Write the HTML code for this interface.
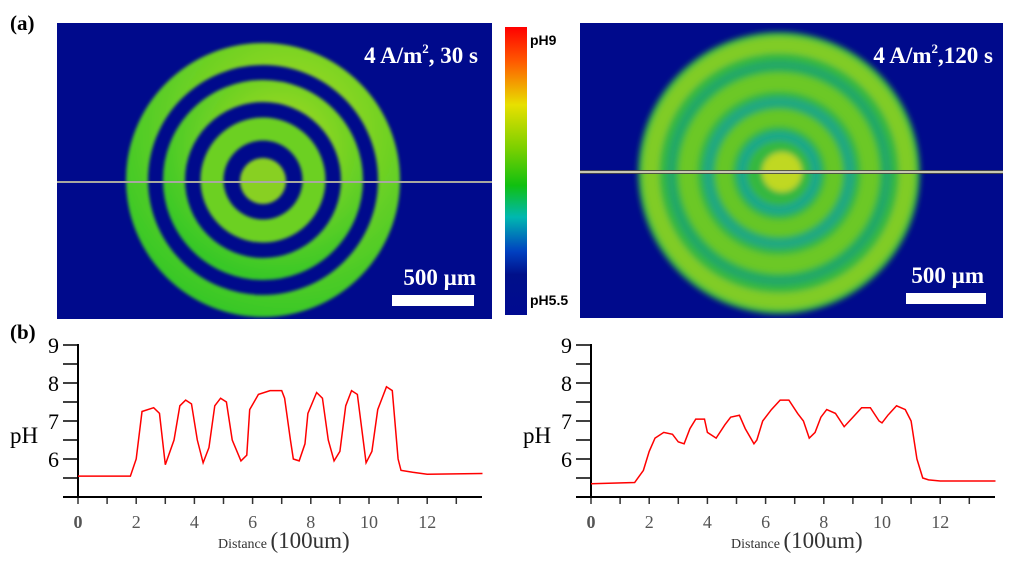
<!DOCTYPE html>
<html><head><meta charset="utf-8"><style>
html,body{margin:0;padding:0;background:#fff;width:1024px;height:566px;overflow:hidden}
svg{display:block;font-family:"Liberation Serif",serif}
</style></head><body>
<svg id="fig" width="1024" height="566" viewBox="0 0 1024 566">
<defs>
<filter id="bl" x="-20%" y="-20%" width="140%" height="140%"><feGaussianBlur stdDeviation="1.5"/></filter>
<filter id="bl2" x="-20%" y="-20%" width="140%" height="140%"><feGaussianBlur stdDeviation="2.8"/></filter>
<clipPath id="c1"><rect x="57" y="23" width="435" height="296"/></clipPath>
<clipPath id="c2"><rect x="580" y="23" width="423" height="295"/></clipPath>
<linearGradient id="cb" x1="0" y1="0" x2="0" y2="1">
<stop offset="0" stop-color="#ff0000"/><stop offset="0.12" stop-color="#ff5a00"/><stop offset="0.27" stop-color="#e8e000"/><stop offset="0.42" stop-color="#7cd000"/><stop offset="0.55" stop-color="#10c010"/><stop offset="0.66" stop-color="#00b8b0"/><stop offset="0.78" stop-color="#0040c0"/><stop offset="0.86" stop-color="#00108a"/><stop offset="1" stop-color="#000a90"/>
</linearGradient>
<radialGradient id="gr1" cx="0.6" cy="0.3" r="0.75"><stop offset="0" stop-color="#b0dc20"/><stop offset="1" stop-color="#38c828"/></radialGradient>
</defs>
<text x="10" y="30" font-size="21" font-weight="bold">(a)</text>
<text x="10" y="339" font-size="21" font-weight="bold">(b)</text>

<g>
<rect x="57" y="23" width="435" height="296" fill="#000a8c"/>
<g filter="url(#bl)" fill="none" clip-path="url(#c1)">
<circle cx="263" cy="180" r="126" stroke="url(#gr1)" stroke-width="22"/>
<circle cx="263" cy="180" r="89" stroke="url(#gr1)" stroke-width="22"/>
<circle cx="263" cy="180" r="51" stroke="#6cd020" stroke-width="23"/>
<circle cx="263" cy="181" r="23" fill="#88d020"/>
</g>
<line x1="57" y1="182" x2="492" y2="182" stroke="#a8a8a0" stroke-width="2"/>
<text x="478" y="63" font-size="23" font-weight="bold" fill="#fff" text-anchor="end">4 A/m<tspan font-size="13" dy="-10">2</tspan><tspan dy="10">, 30 s</tspan></text>
<text x="476" y="285" font-size="23" font-weight="bold" fill="#fff" text-anchor="end">500 µm</text>
<rect x="392" y="295" width="82" height="11" fill="#fff"/>
</g>

<g>
<rect x="505" y="27" width="22" height="288" fill="url(#cb)"/>
<text x="530" y="45" font-family="Liberation Sans,sans-serif" font-size="14" font-weight="bold">pH9</text>
<text x="530" y="305" font-family="Liberation Sans,sans-serif" font-size="14" font-weight="bold">pH5.5</text>
</g>

<g>
<rect x="580" y="23" width="423" height="295" fill="#000a8c"/>
<g filter="url(#bl2)" clip-path="url(#c2)">
<circle cx="779" cy="173" r="141" fill="#34b840"/>
<circle cx="779" cy="173" r="128" fill="none" stroke="#80cc28" stroke-width="16"/>
<circle cx="779" cy="173" r="108" fill="none" stroke="#24a868" stroke-width="9"/>
<circle cx="779" cy="173" r="91" fill="none" stroke="#6cc828" stroke-width="18"/>
<circle cx="779" cy="173" r="71" fill="none" stroke="#20a880" stroke-width="10"/>
<circle cx="779" cy="173" r="55" fill="none" stroke="#66c628" stroke-width="16"/>
<circle cx="779" cy="173" r="37" fill="none" stroke="#1ca888" stroke-width="10"/>
<circle cx="782" cy="172" r="20" fill="#c0d820"/>
</g>
<line x1="580" y1="172" x2="1003" y2="172" stroke="#c8c8b0" stroke-width="3"/>
<line x1="580" y1="170.5" x2="1003" y2="170.5" stroke="#333" stroke-width="0.8"/>
<line x1="580" y1="173.5" x2="1003" y2="173.5" stroke="#333" stroke-width="0.8"/>
<text x="993" y="63" font-size="23" font-weight="bold" fill="#fff" text-anchor="end">4 A/m<tspan font-size="13" dy="-10">2</tspan><tspan dy="10">,120 s</tspan></text>
<text x="984" y="283" font-size="23" font-weight="bold" fill="#fff" text-anchor="end">500 µm</text>
<rect x="906" y="293" width="80" height="11" fill="#fff"/>
</g>
<g id="charts"></g>
</svg>
<script>
const xTicks = [0,2,4,6,8,10,12];
const yTicks = [6,7,8,9];
const x1 = [0,1.8,2.0,2.2,2.6,2.8,3.0,3.3,3.5,3.7,3.9,4.1,4.3,4.5,4.7,4.9,5.1,5.3,5.6,5.8,5.9,6.2,6.6,7.0,7.1,7.3,7.4,7.6,7.8,7.9,8.2,8.4,8.6,8.8,9.0,9.2,9.4,9.6,9.8,9.9,10.1,10.3,10.6,10.8,11.0,11.1,11.5,12,13.9];
const ph1 = [5.55,5.55,6.0,7.25,7.35,7.2,5.85,6.5,7.4,7.55,7.45,6.5,5.9,6.3,7.4,7.6,7.5,6.5,5.95,6.1,7.3,7.7,7.8,7.8,7.6,6.5,6.0,5.95,6.4,7.2,7.75,7.6,6.5,5.95,6.2,7.4,7.8,7.7,6.5,5.9,6.2,7.3,7.9,7.8,6.0,5.7,5.65,5.6,5.62];
const x2 = [0,1.5,1.8,2.0,2.2,2.5,2.8,3.0,3.2,3.4,3.6,3.9,4.0,4.3,4.6,4.8,5.1,5.3,5.6,5.7,5.9,6.2,6.5,6.8,7.1,7.3,7.5,7.7,7.9,8.1,8.4,8.7,9.0,9.3,9.6,9.9,10.0,10.2,10.5,10.8,11.0,11.2,11.4,11.6,12,13.9];
const ph2 = [5.35,5.38,5.7,6.2,6.55,6.7,6.65,6.45,6.4,6.8,7.05,7.05,6.7,6.55,6.9,7.1,7.15,6.8,6.4,6.5,7.0,7.3,7.55,7.55,7.2,7.0,6.55,6.7,7.1,7.3,7.2,6.85,7.1,7.35,7.35,7.0,6.95,7.15,7.4,7.3,7.0,6.0,5.5,5.45,5.42,5.42];
const NS="http://www.w3.org/2000/svg";
const root=document.getElementById('charts');
function mk(tag,attrs,parent){const e=document.createElementNS(NS,tag);for(const k in attrs)e.setAttribute(k,attrs[k]);parent.appendChild(e);return e;}
function chart(ox, endX, xs, ys, name){
  const g=mk('g',{},root);
  
  
  const sx=v=>ox+v*29.1, sy=v=>497-(v-5)*38;
  for(let v=5.5;v<=9.01;v+=0.5) mk('line',{x1:ox-15,x2:ox,y1:sy(v),y2:sy(v),stroke:'#000','stroke-width':1.5},g);
  for(let v=0;v<=13;v++) mk('line',{x1:sx(v),x2:sx(v),y1:497,y2:504,stroke:'#333','stroke-width':1.5},g);
  mk('line',{x1:ox-15,x2:endX,y1:497,y2:497,stroke:'#000','stroke-width':2},g);
  mk('line',{x1:ox,x2:ox,y1:344,y2:497,stroke:'#000','stroke-width':2},g);
  yTicks.forEach(v=>{const t=mk('text',{x:ox-19,y:sy(v)+8,'font-size':22,'text-anchor':'end'},g);t.textContent=v;
    
    });
  xTicks.forEach(v=>{const t=mk('text',{x:sx(v),y:528,'font-size':18,'text-anchor':'middle',fill:'#555','font-weight':v===0?'bold':'normal'},g);t.textContent=v;
    
    });
  const yl=mk('text',{x:ox-68,y:443,'font-size':23},g);yl.textContent='pH';
  
  
  const xl=mk('text',{x:ox+140,y:548,fill:'#333'},g);
  
  
  const a=mk('tspan',{'font-size':14},xl);a.textContent='Distance ';
  const b=mk('tspan',{'font-size':23},xl);b.textContent='(100um)';
  const p=mk('polyline',{points:xs.map((v,i)=>sx(v)+','+sy(ys[i])).join(' '),fill:'none',stroke:'#ff0000','stroke-width':1.5},g);
  
  
}
chart(78,482,x1,ph1,'ph-profile-chart-30s');
chart(591,995,x2,ph2,'ph-profile-chart-120s');
</script>
</body></html>
